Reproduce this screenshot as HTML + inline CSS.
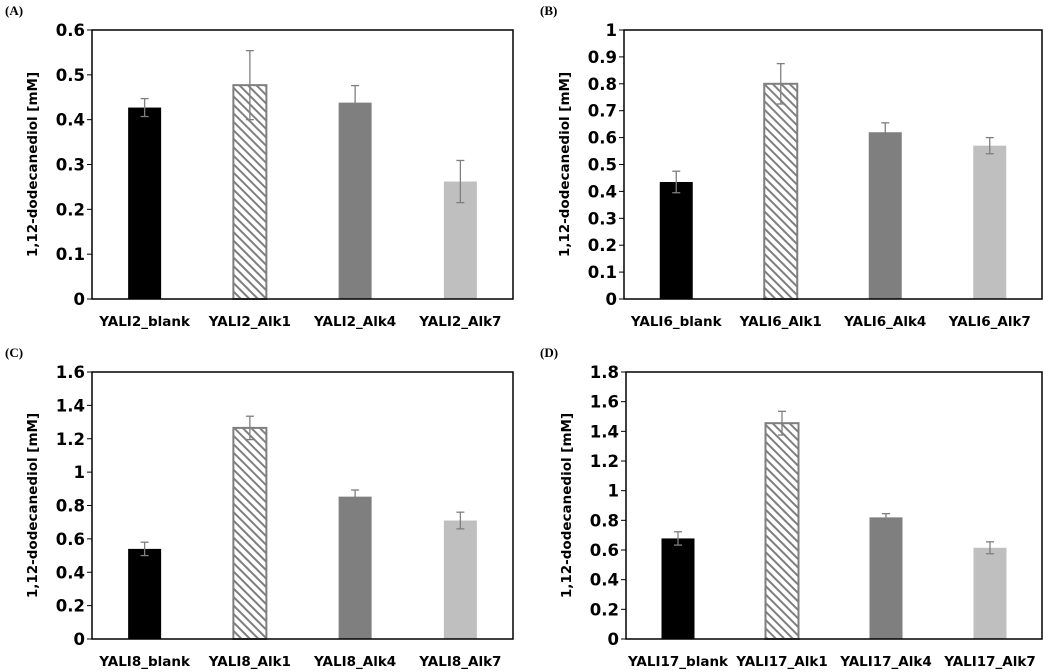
<!DOCTYPE html>
<html><head><meta charset="utf-8"><style>
body{margin:0;background:#fff;width:1052px;height:672px;overflow:hidden}
svg{display:block}
text{font-family:"DejaVu Sans","Liberation Sans",sans-serif;font-weight:bold;fill:#000}
.pl{font-family:"Liberation Serif",serif;font-weight:bold;font-size:13px}
</style></head><body>
<svg id="c" width="1052" height="672">
<defs><pattern id="hatch" patternUnits="userSpaceOnUse" width="6" height="6" patternTransform="rotate(-45)">
<rect width="6" height="6" fill="#fff"/><rect x="0" y="0" width="2" height="6" fill="#7f7f7f"/></pattern></defs>
</svg>
<script>
const panelLabels=["(A)","(B)","(C)","(D)"];
const prefixes=["YALI2","YALI6","YALI8","YALI17"];
const suffixes=["blank","Alk1","Alk4","Alk7"];
const maxY=[0.6,1,1.6,1.8];
const stepY=[0.1,0.1,0.2,0.2];
const valsA=[0.427,0.477,0.438,0.262];
const errA=[0.02,0.077,0.038,0.047];
const valsB=[0.435,0.80,0.62,0.57];
const errB=[0.04,0.075,0.035,0.03];
const valsC=[0.54,1.265,0.853,0.71];
const errC=[0.04,0.07,0.04,0.05];
const valsD=[0.678,1.455,0.82,0.615];
const errD=[0.045,0.08,0.025,0.04];
const allVals=[valsA,valsB,valsC,valsD];
const allErr=[errA,errB,errC,errD];
const fills=["#000","url(#hatch)","#7f7f7f","#bfbfbf"];
const boxes=[[92,30,513,299],[624,30,1042,299],[92,372,513,639],[626,372,1042,639]];
const svg=document.getElementById('c');
const NS="http://www.w3.org/2000/svg";
function mk(t,a,p){const e=document.createElementNS(NS,t);for(const k in a)e.setAttribute(k,a[k]);(p||svg).appendChild(e);return e;}
boxes.forEach((b,i)=>{
  const [l,t,r,bt]=b;
  const g=mk('g',{});
  
  
  const y=v=>bt-(v/maxY[i])*(bt-t);
  const cw=(r-l)/4;
  const x=k=>l+cw*(k+0.5);
  const pl=mk('text',{x:i%2?540:5,y:t-15,class:'pl'},g);pl.textContent=panelLabels[i];
  
  
  const n=Math.round(maxY[i]/stepY[i]);
  for(let k=0;k<=n;k++){
    const v=+(k*stepY[i]).toFixed(2);
    mk('line',{x1:l-5,x2:l,y1:y(v),y2:y(v),stroke:'#000','stroke-width':1},g);
    const tx=mk('text',{x:l-7,y:y(v)+6,'text-anchor':'end','font-size':16.5},g);
    tx.textContent=String(v);
    
    
  }
  const yt=mk('text',{transform:`translate(${l-55},${(t+bt)/2}) rotate(-90)`,'text-anchor':'middle','font-size':13.5},g);
  yt.textContent='1,12-dodecanediol [mM]';
  
  
  allVals[i].forEach((v,k)=>{
    const bw=33;
    const rc=mk('rect',{x:x(k)-bw/2,y:y(v),width:bw,height:bt-y(v),fill:fills[k],stroke:k==1?'#7f7f7f':'none','stroke-width':k==1?2:0},g);
    
    
    const e=allErr[i][k];
    const eg=mk('g',{stroke:'#7f7f7f','stroke-width':1.3},g);
    
    
    mk('line',{x1:x(k),x2:x(k),y1:y(v+e),y2:y(v-e)},eg);
    mk('line',{x1:x(k)-4,x2:x(k)+4,y1:y(v+e),y2:y(v+e)},eg);
    mk('line',{x1:x(k)-4,x2:x(k)+4,y1:y(v-e),y2:y(v-e)},eg);
    const xl=mk('text',{x:x(k),y:bt+27,'text-anchor':'middle','font-size':13.5},g);
    xl.textContent=prefixes[i]+'_'+suffixes[k];
    
    
  });
  const fr=mk('rect',{x:l,y:t,width:r-l,height:bt-t,fill:'none',stroke:'#000','stroke-width':1.5},g);
  
  
});
</script>
</body></html>
